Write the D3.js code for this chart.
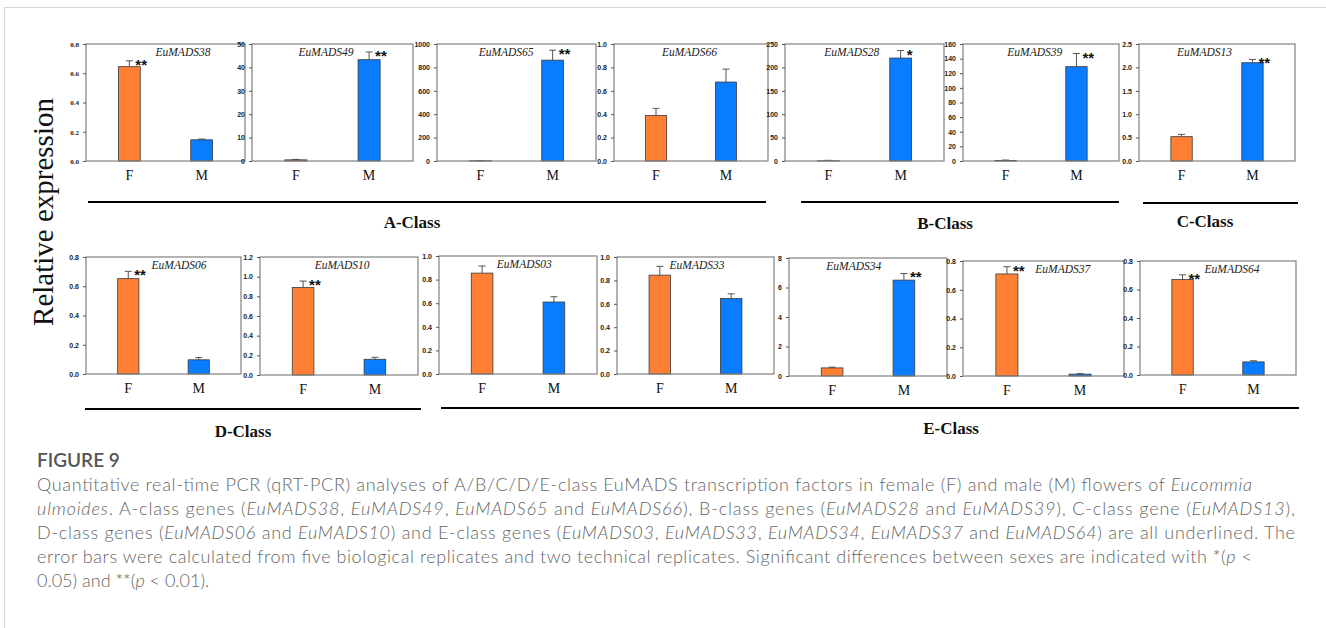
<!DOCTYPE html>
<html>
<head>
<meta charset="utf-8">
<script src="https://cdn.jsdelivr.net/npm/d3@7"></script>
<style>
  body { margin: 0; background: #fff; }
  svg { display: block; }
</style>
</head>
<body>
<div id="chart"></div>
<script>
// data
let genes = ["EuMADS38", "EuMADS49", "EuMADS65", "EuMADS66", "EuMADS28", "EuMADS39", "EuMADS13",
	"EuMADS06", "EuMADS10", "EuMADS03", "EuMADS33", "EuMADS34", "EuMADS37", "EuMADS64"];
let sexes = ["F", "M"];
let femaleVals = [0.645, 0.5, 2, 0.39, 0.5, 0.8, 0.52, 0.652, 0.89, 0.855, 0.845, 0.55, 0.71, 0.67];
let femaleErr = [0.04, 0.15, 1, 0.06, 1, 0.5, 0.05, 0.05, 0.065, 0.06, 0.075, 0.05, 0.05, 0.033];
let maleVals = [0.145, 43.3, 862, 0.675, 220, 129, 2.1, 0.097, 0.16, 0.61, 0.645, 6.5, 0.013, 0.092];
let maleErr = [0.005, 3.3, 85, 0.11, 16, 18, 0.07, 0.015, 0.02, 0.045, 0.04, 0.45, 0.003, 0.008];
let yMaxes = [0.8, 50, 1000, 1.0, 250, 160, 2.5, 0.8, 1.2, 1.0, 1.0, 8, 0.8, 0.8];
let yStepS = [0.2, 10, 200, 0.2, 50, 20, 0.5, 0.2, 0.2, 0.2, 0.2, 2, 0.2, 0.2];
let sigSex = ["F", "M", "M", "", "M", "M", "M", "F", "F", "", "", "M", "F", "F"];
let sigMarks = ["**", "**", "**", "", "*", "**", "**", "**", "**", "", "", "**", "**", "**"];
let classNames = ["A-Class", "B-Class", "C-Class", "D-Class", "E-Class"];

// layout: panel boxes [x0, y0, x1, y1] and gene label position (fraction of width)
let panelBoxes = [
	[86, 44, 245, 161], [252, 44, 413, 161], [437, 44, 596, 161], [614, 44, 768, 161],
	[785, 44, 944, 161], [963, 44, 1119, 161], [1139, 44, 1295, 161],
	[86, 257, 241, 374], [260, 257, 418, 375], [439, 256, 597, 374], [617, 257, 774, 374],
	[789, 258, 947, 376], [963, 261, 1124, 376], [1140, 261, 1296, 375]
];
let labelFrac = [0.61, 0.46, 0.435, 0.49, 0.42, 0.46, 0.42, 0.6, 0.52, 0.54, 0.51, 0.41, 0.62, 0.59];
// [x1, x2, lineY, labelX, labelY]
let classLines = [
	[88, 766, 202, 412, 228], [801, 1119, 202, 945, 229], [1143, 1298, 203, 1205, 227],
	[85, 421, 409, 243, 437], [441, 1299, 408, 951, 434]
];

let colorF = "#ff7f35";
let colorM = "#0a7cff";

let width = 1326, height = 628;
let svg = d3.select("#chart").append("svg")
	.attr("width", width)
	.attr("height", height);

// card frame
svg.append("line").attr("x1", 4).attr("x2", width).attr("y1", 7.5).attr("y2", 7.5)
	.attr("stroke", "#d8d8d8").attr("stroke-width", 1);
svg.append("line").attr("x1", 4.5).attr("x2", 4.5).attr("y1", 7).attr("y2", height)
	.attr("stroke", "#d8d8d8").attr("stroke-width", 1);

genes.forEach(function (gene, i) {
	let [x0, y0, x1, y1] = panelBoxes[i];
	let w = x1 - x0, h = y1 - y0;
	let g = svg.append("g").attr("transform", `translate(${x0},${y0})`);

	let x = d3.scalePoint().domain(sexes).range([0, w]).padding(0.6);
	let y = d3.scaleLinear().domain([0, yMaxes[i]]).range([h, 0]);
	let barW = w * 0.137;

	let rows = [
		{ sex: "F", v: femaleVals[i], e: femaleErr[i], c: colorF },
		{ sex: "M", v: maleVals[i], e: maleErr[i], c: colorM }
	];

	// error bars (upper only)
	rows.forEach(function (d) {
		let cx = x(d.sex);
		g.append("line").attr("x1", cx).attr("x2", cx)
			.attr("y1", y(d.v)).attr("y2", y(d.v + d.e))
			.attr("stroke", "#555").attr("stroke-width", 1);
		g.append("line").attr("x1", cx - 3.5).attr("x2", cx + 3.5)
			.attr("y1", y(d.v + d.e)).attr("y2", y(d.v + d.e))
			.attr("stroke", "#555").attr("stroke-width", 1);
	});

	g.selectAll("rect.bar")
		.data(rows)
		.enter()
		.append("rect")
		.attr("class", "bar")
		.attr("x", d => x(d.sex) - barW / 2)
		.attr("y", d => y(d.v))
		.attr("width", barW)
		.attr("height", d => h - y(d.v))
		.attr("fill", d => d.c)
		.attr("stroke", "#3a3a3a")
		.attr("stroke-width", 0.8);

	// frame
	g.append("rect").attr("width", w).attr("height", h)
		.attr("fill", "none").attr("stroke", "#808080").attr("stroke-width", 1.2);

	// y axis
	let ticks = d3.range(0, yMaxes[i] + yStepS[i] / 2, yStepS[i]);
	let fmt = yStepS[i] < 1 ? d3.format(".1f") : d3.format("d");
	let axis = g.append("g")
		.call(d3.axisLeft(y).tickValues(ticks).tickFormat(fmt).tickSize(3).tickPadding(4));
	axis.select(".domain").remove();
	axis.selectAll("line").attr("stroke", "#555");
	axis.selectAll("text")
		.attr("fill", "#222")
		.style("font-family", i === 0 ? "'Liberation Serif', serif" : "'Liberation Sans', Arial, sans-serif")
		.style("font-weight", "bold")
		.style("font-size", "7px");

	// F / M labels
	g.selectAll("text.sex")
		.data(sexes)
		.enter()
		.append("text")
		.attr("class", "sex")
		.attr("x", d => x(d))
		.attr("y", h + 18.5)
		.attr("text-anchor", "middle")
		.style("font-family", "'Liberation Serif', 'Times New Roman', serif")
		.style("font-size", "14px")
		.attr("fill", "#111")
		.text(d => d);

	// gene name
	g.append("text")
		.attr("x", w * labelFrac[i])
		.attr("y", 12)
		.attr("text-anchor", "middle")
		.style("font-family", "'Liberation Serif', 'Times New Roman', serif")
		.style("font-style", "italic")
		.style("font-size", "11.5px")
		.attr("fill", "#222")
		.text(gene);

	// significance
	if (sigMarks[i]) {
		let d = rows.find(r => r.sex === sigSex[i]);
		g.append("text")
			.attr("x", x(d.sex) + 6)
			.attr("y", y(d.v + d.e) + 9)
			.style("font-family", "'Liberation Sans', Arial, sans-serif")
			.style("font-weight", "bold")
			.style("font-size", "15px")
			.attr("fill", "#111")
			.text(sigMarks[i]);
	}
});

// class underlines and names
classLines.forEach(function (c, k) {
	svg.append("line").attr("x1", c[0]).attr("x2", c[1]).attr("y1", c[2]).attr("y2", c[2])
		.attr("stroke", "#000").attr("stroke-width", 2);
	svg.append("text")
		.attr("x", c[3]).attr("y", c[4])
		.attr("text-anchor", "middle")
		.style("font-family", "'Liberation Serif', 'Times New Roman', serif")
		.style("font-weight", "bold")
		.style("font-size", "17px")
		.attr("fill", "#111")
		.text(classNames[k]);
});

// y title
svg.append("text")
	.attr("transform", "translate(53,212) rotate(-90)")
	.attr("text-anchor", "middle")
	.style("font-family", "'Liberation Serif', 'Times New Roman', serif")
	.style("font-size", "29px")
	.attr("fill", "#111")
	.text("Relative expression");

// caption
svg.append("text")
	.attr("x", 37).attr("y", 467)
	.style("font-family", "Lato, 'Open Sans', sans-serif")
	.style("font-weight", 600)
	.style("font-size", "19px")
	.attr("fill", "#555")
	.text("FIGURE 9");

let captionLines = [
	[["Quantitative real-time PCR (qRT-PCR) analyses of A/B/C/D/E-class EuMADS transcription factors in female (F) and male (M) flowers of ", 0], ["Eucommia", 1]],
	[["ulmoides", 1], [". A-class genes (", 0], ["EuMADS38", 1], [", ", 0], ["EuMADS49", 1], [", ", 0], ["EuMADS65", 1], [" and ", 0], ["EuMADS66", 1],
		["), B-class genes (", 0], ["EuMADS28", 1], [" and ", 0], ["EuMADS39", 1], ["), C-class gene (", 0], ["EuMADS13", 1], ["),", 0]],
	[["D-class genes (", 0], ["EuMADS06", 1], [" and ", 0], ["EuMADS10", 1], [") and E-class genes (", 0], ["EuMADS03", 1], [", ", 0], ["EuMADS33", 1],
		[", ", 0], ["EuMADS34", 1], [", ", 0], ["EuMADS37", 1], [" and ", 0], ["EuMADS64", 1], [") are all underlined. The", 0]],
	[["error bars were calculated from five biological replicates and two technical replicates. Significant differences between sexes are indicated with *(", 0], ["p", 1], [" <", 0]],
	[["0.05) and **(", 0], ["p", 1], [" < 0.01).", 0]]
];
let captionWidths = [1215, 1258, 1258, 1215, null];

captionLines.forEach(function (segs, li) {
	let t = svg.append("text")
		.attr("x", 37)
		.attr("y", 491 + li * 24)
		.style("font-family", "Lato, 'Open Sans', sans-serif")
		.style("font-weight", 300)
		.style("font-size", "18px")
		.attr("fill", "#666");
	segs.forEach(function (s) {
		t.append("tspan")
			.style("font-style", s[1] ? "italic" : "normal")
			.text(s[0]);
	});
	if (captionWidths[li]) {
		t.attr("textLength", captionWidths[li]).attr("lengthAdjust", "spacing");
	}
});
</script>
</body>
</html>
